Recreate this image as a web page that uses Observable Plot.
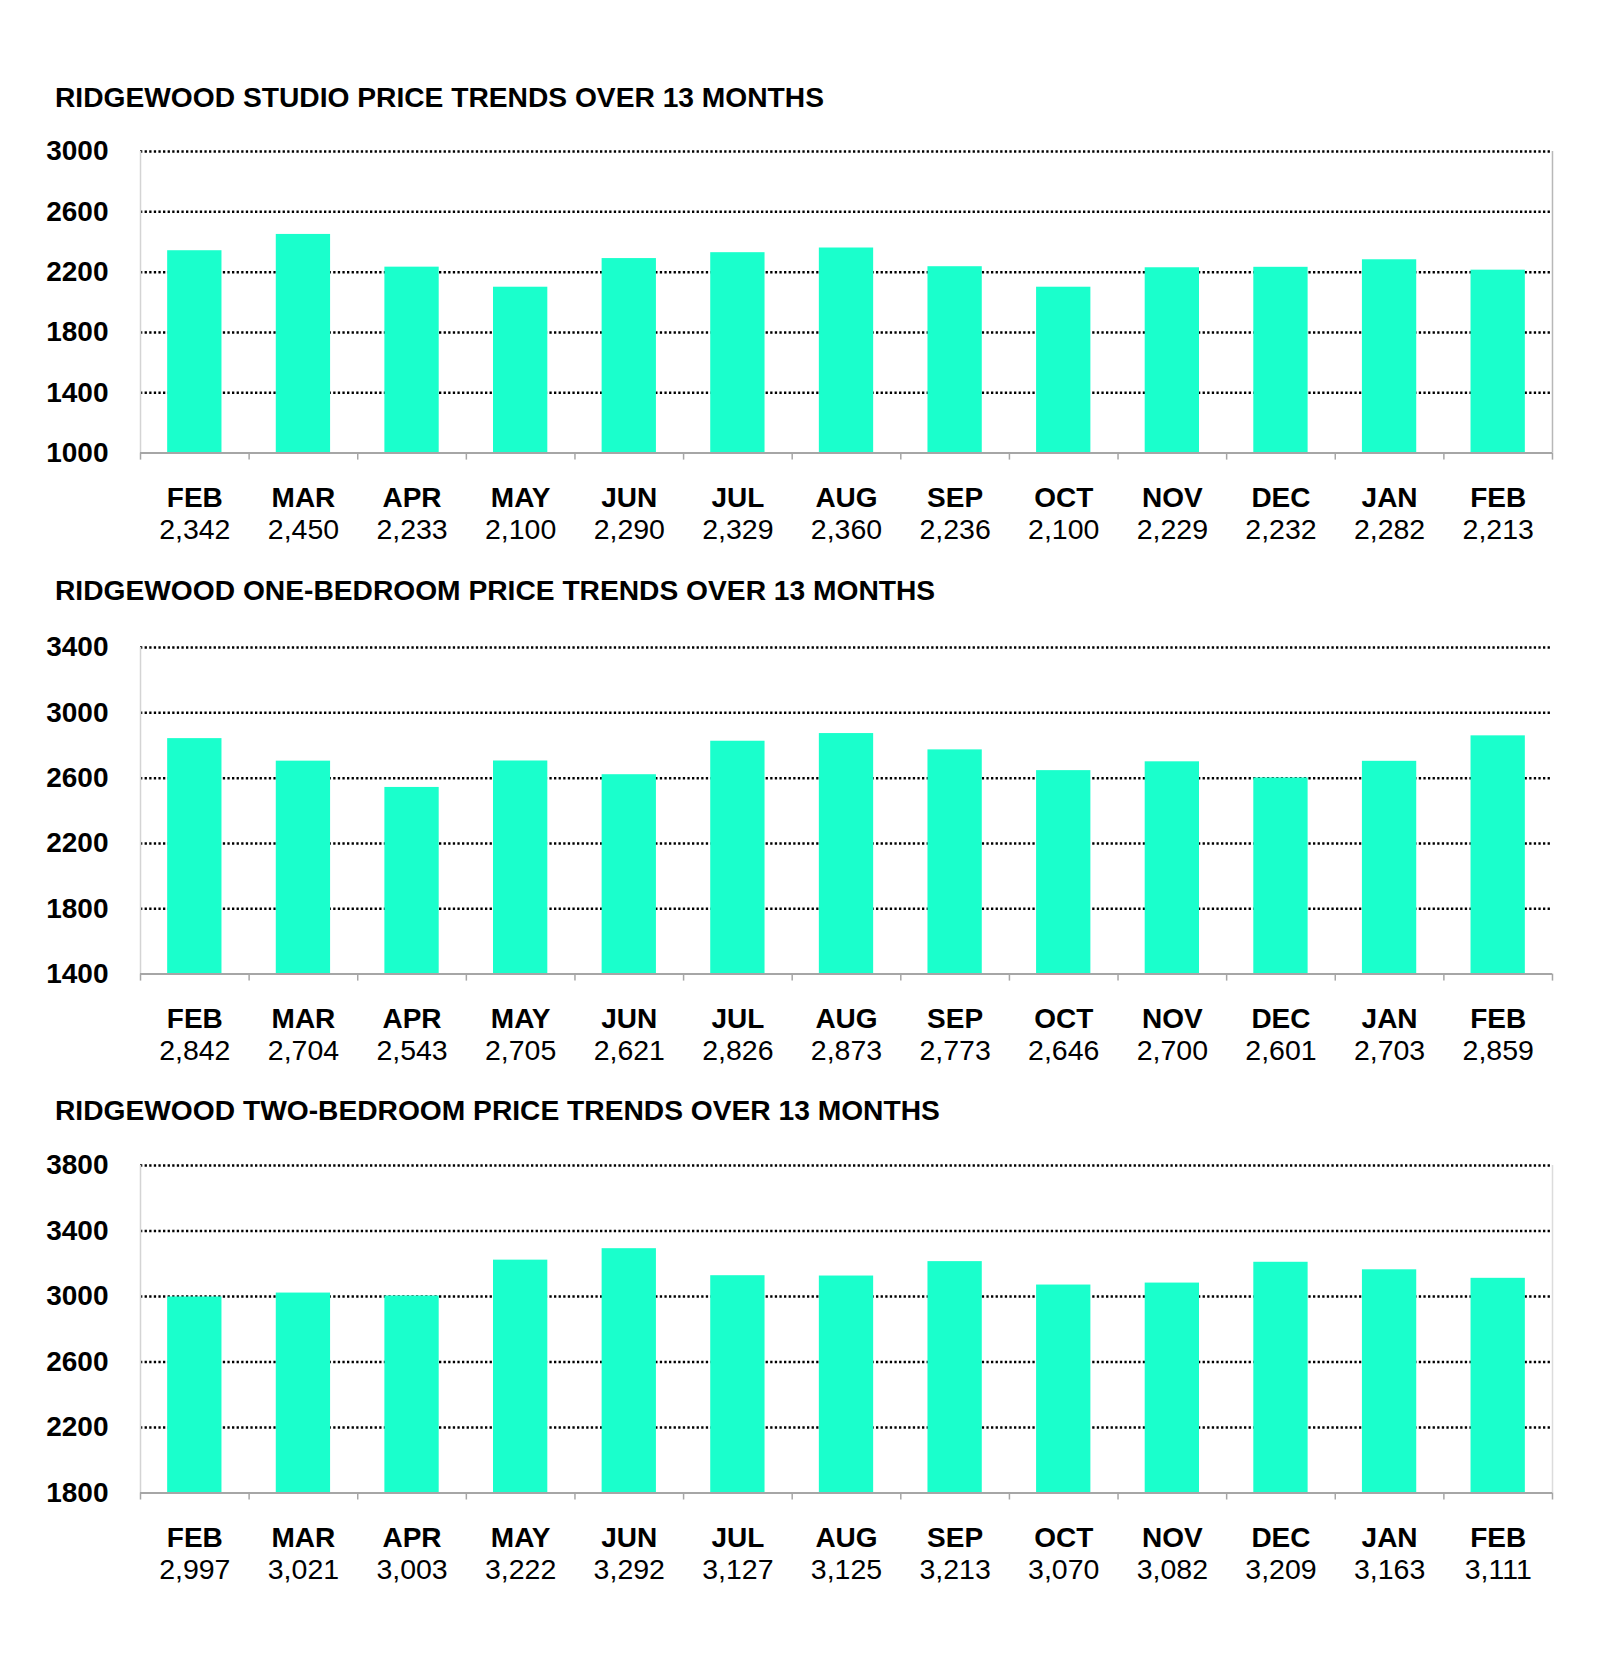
<!DOCTYPE html>
<html>
<head>
<meta charset="utf-8">
<script src="https://cdn.jsdelivr.net/npm/d3@7"></script>
<script src="https://cdn.jsdelivr.net/npm/@observablehq/plot@0.6"></script>
<style>
  html, body { margin: 0; padding: 0; background: #fff; }
  #page { position: relative; width: 1600px; height: 1670px; font-family: "Liberation Sans", Arial, sans-serif; }
  .title { position: absolute; left: 55px; font-size: 28.2px; font-weight: bold; line-height: 32px; color: #000; white-space: nowrap; }
  .chart { position: absolute; left: 0; }
</style>
</head>
<body>
<div id="page"></div>
<script>
const months = ["FEB","MAR","APR","MAY","JUN","JUL","AUG","SEP","OCT","NOV","DEC","JAN","FEB"];
const studioValues = [2342,2450,2233,2100,2290,2329,2360,2236,2100,2229,2232,2282,2213];
const oneBedValues = [2842,2704,2543,2705,2621,2826,2873,2773,2646,2700,2601,2703,2859];
const twoBedValues = [2997,3021,3003,3222,3292,3127,3125,3213,3070,3082,3209,3163,3111];
const titles = [
  "RIDGEWOOD STUDIO PRICE TRENDS OVER 13 MONTHS",
  "RIDGEWOOD ONE-BEDROOM PRICE TRENDS OVER 13 MONTHS",
  "RIDGEWOOD TWO-BEDROOM PRICE TRENDS OVER 13 MONTHS"
];
const studioTicks = [1000,1400,1800,2200,2600,3000];
const oneBedTicks = [1400,1800,2200,2600,3000,3400];
const twoBedTicks = [1800,2200,2600,3000,3400,3800];

const page = document.getElementById("page");
const fmt = d3.format(",");
const barColor = "#1affcc";

function makeChart(cfg) {
  const {title, values, ticks, titleY, plotTop, plotBottom, rightFrame} = cfg;
  const data = values.map((v, i) => ({i, month: months[i], value: v}));
  const yMin = ticks[0], yMax = ticks[ticks.length - 1];
  const mt = 30, mb = 110;
  const h = (plotBottom - plotTop) + mt + mb;

  const t = document.createElement("div");
  t.className = "title";
  t.style.top = (titleY - 16.1) + "px";
  t.textContent = title;
  page.appendChild(t);

  const marks = [
    Plot.ruleY(ticks.slice(1), {stroke: "#000", strokeWidth: 2.5, strokeDasharray: "2.3,2.3"}),
    Plot.ruleX([0], {stroke: "#d4d4d4", strokeWidth: 1.5}),
  ];
  if (rightFrame) marks.push(Plot.ruleX([months.length], {stroke: rightFrame, strokeWidth: 1.5}));
  marks.push(
    Plot.rect(data, {x1: d => d.i + 0.25, x2: d => d.i + 0.75, y1: () => yMin, y2: "value", fill: barColor}),
    Plot.ruleY([yMin], {stroke: "#a6a6a6", strokeWidth: 2}),
    Plot.axisX({ticks: d3.range(months.length + 1), tickFormat: () => "", tickSize: 7, stroke: "#a6a6a6", strokeWidth: 1.5, label: null}),
    Plot.axisY({ticks, tickSize: 0, tickPadding: 32, fontSize: 28, fontWeight: "bold", fill: "#000", tickFormat: d => String(d), label: null}),
    Plot.text(data, {x: d => d.i + 0.5, y: () => yMin, text: "month", dy: 45, fontSize: 28, fontWeight: "bold", fill: "#000"}),
    Plot.text(data, {x: d => d.i + 0.5, y: () => yMin, text: d => fmt(d.value), dy: 77, fontSize: 28.5, fill: "#000"})
  );

  const svg = Plot.plot({
    width: 1600,
    height: h,
    marginTop: mt,
    marginBottom: mb,
    marginLeft: 140,
    marginRight: 48,
    x: {domain: [0, months.length], label: null},
    y: {domain: [yMin, yMax], label: null},
    style: {fontFamily: "'Liberation Sans', Arial, sans-serif", background: "#fff", overflow: "visible"},
    marks
  });
  svg.classList.add("chart");
  svg.style.top = (plotTop - mt) + "px";
  page.appendChild(svg);
}

makeChart({title: titles[0], values: studioValues, ticks: studioTicks, titleY: 97, plotTop: 150.7, plotBottom: 452.3, rightFrame: "#b8b8b8"});
makeChart({title: titles[1], values: oneBedValues, ticks: oneBedTicks, titleY: 590, plotTop: 646.7, plotBottom: 973.3, rightFrame: null});
makeChart({title: titles[2], values: twoBedValues, ticks: twoBedTicks, titleY: 1110, plotTop: 1165, plotBottom: 1492.5, rightFrame: "#dcdcdc"});
</script>
</body>
</html>
